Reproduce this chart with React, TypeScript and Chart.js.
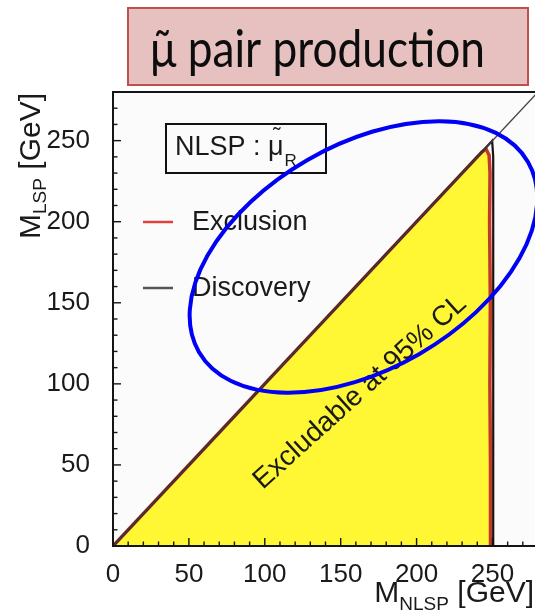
import React, { useEffect, useRef } from 'react';
import { Chart, registerables } from 'chart.js';
Chart.register(...registerables);

// ---- data ----
const xTicks = [0, 50, 100, 150, 200, 250];
const yTicks = [0, 50, 100, 150, 200, 250];
const axisMin = 0;
const axisMax = 280;
const minorStep = 10;
const majorStep = 50;

// Exclusion contour (95% CL) – bounds the yellow excludable region
const exclusionX = [0, 60, 120, 180, 230, 243, 245.8, 247.8, 248.4, 248.1, 248.6, 248.3, 248.7, 248.7];
const exclusionY = [0, 60, 120, 180, 230, 243, 244.8, 241, 230, 200, 150, 100, 50, 0];
// Discovery contour
const discoveryX = [0, 249.8, 250.5, 250.5, 250.5];
const discoveryY = [0, 249.8, 240, 120, 0];
// Kinematic limit M_LSP = M_NLSP
const kinematicX = [0, 280];
const kinematicY = [0, 280];

const legendLabels = ['Exclusion', 'Discovery'];
const titleText = 'μ̃ pair production';
const regionLabel = 'Excludable at 95% CL';
const nlspMain = 'NLSP : μ';
const nlspSub = 'R';
const xTitle = ['M', 'NLSP', ' [GeV]'];
const yTitle = ['M', 'LSP', ' [GeV]'];

const SANS = '"Liberation Sans", Arial, Helvetica, sans-serif';

export default function App() {
  const ref = useRef<HTMLCanvasElement>(null);

  useEffect(() => {
    document.body.style.margin = '0';
    const canvas = ref.current!;
    const pts = (xs: number[], ys: number[]) => xs.map((x, i) => ({ x, y: ys[i] }));

    const drawParts = (ctx: CanvasRenderingContext2D, parts: string[], mainSize: number, subSize: number, subShift: number) => {
      const widths = parts.map((p, i) => {
        ctx.font = `${i === 1 ? subSize : mainSize}px ${SANS}`;
        return ctx.measureText(p).width;
      });
      const total = widths.reduce((a, b) => a + b, 0);
      let cx = -total;
      parts.forEach((p, i) => {
        ctx.font = `${i === 1 ? subSize : mainSize}px ${SANS}`;
        ctx.fillText(p, cx, i === 1 ? subShift : 0);
        cx += widths[i];
      });
      return total;
    };

    const overlay = {
      id: 'overlay',
      beforeDraw(chart: any) {
        const { ctx, chartArea: a } = chart;
        ctx.save();
        ctx.fillStyle = '#ffffff';
        ctx.fillRect(0, 0, chart.width, chart.height);
        ctx.fillStyle = '#FBFBFB';
        ctx.fillRect(a.left, a.top, a.right - a.left, a.bottom - a.top);
        ctx.restore();
      },
      afterDatasetsDraw(chart: any) {
        const { ctx, chartArea: a, scales } = chart;
        const x = scales.x, y = scales.y;
        ctx.save();
        ctx.strokeStyle = '#151515';
        ctx.lineWidth = 1.4;
        for (let v = axisMin; v <= axisMax; v += minorStep) {
          const len = v % majorStep === 0 ? 8 : 4.5;
          const px = x.getPixelForValue(v);
          ctx.beginPath(); ctx.moveTo(px, a.bottom); ctx.lineTo(px, a.bottom - len); ctx.stroke();
          const py = y.getPixelForValue(v);
          ctx.beginPath(); ctx.moveTo(a.left, py); ctx.lineTo(a.left + len, py); ctx.stroke();
        }
        ctx.lineWidth = 2;
        ctx.strokeRect(a.left, a.top, a.right - a.left, a.bottom - a.top);
        ctx.restore();
      },
      afterDraw(chart: any) {
        const { ctx, scales } = chart;
        const x = scales.x, y = scales.y;
        ctx.save();
        ctx.fillStyle = '#1a1a1a';
        ctx.textBaseline = 'alphabetic';

        // axis titles
        ctx.save();
        ctx.translate(534, 602);
        drawParts(ctx, xTitle, 30, 19, 8);
        ctx.restore();
        ctx.save();
        ctx.translate(40, 93);
        ctx.rotate(-Math.PI / 2);
        drawParts(ctx, yTitle, 30, 19, 6);
        ctx.restore();

        // NLSP box
        ctx.strokeStyle = '#111';
        ctx.lineWidth = 2;
        ctx.strokeRect(166, 124, 160, 49);
        ctx.font = `27px ${SANS}`;
        ctx.textAlign = 'left';
        ctx.fillText(nlspMain, 175, 155);
        const w = ctx.measureText(nlspMain).width;
        const wMu = ctx.measureText('μ').width;
        // tilde over the mu
        ctx.textAlign = 'center';
        ctx.font = `22px ${SANS}`;
        ctx.fillText('˜', 175 + w - wMu / 2 + 1, 143);
        ctx.textAlign = 'left';
        ctx.font = `17px ${SANS}`;
        ctx.fillText(nlspSub, 175 + w + 1, 166);

        // legend
        const legendColors = ['#E0403A', '#555555'];
        const legendY = [222, 288];
        legendLabels.forEach((lab, i) => {
          ctx.strokeStyle = legendColors[i];
          ctx.lineWidth = 2.5;
          ctx.beginPath(); ctx.moveTo(143, legendY[i]); ctx.lineTo(173, legendY[i]); ctx.stroke();
          ctx.font = `27px ${SANS}`;
          ctx.textBaseline = 'middle';
          ctx.fillStyle = '#1a1a1a';
          ctx.fillText(lab, 192, legendY[i] + 1);
        });

        // region label
        ctx.save();
        ctx.translate(360, 392);
        ctx.rotate(-42 * Math.PI / 180);
        ctx.textAlign = 'center';
        ctx.textBaseline = 'middle';
        ctx.font = `28px ${SANS}`;
        ctx.fillText(regionLabel, 0, 0);
        ctx.restore();

        // hand-drawn blue ellipse annotation
        const ecx = x.getPixelForValue(165);
        const ecy = y.getPixelForValue(178.3);
        ctx.strokeStyle = '#0000F5';
        ctx.lineWidth = 4;
        ctx.beginPath();
        ctx.ellipse(ecx, ecy, 190, 112, -30 * Math.PI / 180, 0, Math.PI * 2);
        ctx.stroke();

        // title box
        ctx.fillStyle = '#E6C1C0';
        ctx.fillRect(128, 8, 400, 77);
        ctx.strokeStyle = '#C0504D';
        ctx.lineWidth = 2;
        ctx.strokeRect(128, 8, 400, 77);
        ctx.fillStyle = '#0d0d0d';
        ctx.textAlign = 'left';
        ctx.textBaseline = 'alphabetic';
        ctx.font = '52px Lato, "Open Sans", sans-serif';
        const tw = ctx.measureText(titleText).width;
        ctx.save();
        ctx.translate(150, 67);
        ctx.scale(335 / tw, 1);
        ctx.fillText(titleText, 0, 0);
        ctx.restore();

        ctx.restore();
      },
    };

    const tickFont = { family: SANS, size: 26 };
    const chart = new Chart(canvas, {
      type: 'scatter',
      data: {
        datasets: [
          {
            label: 'Kinematic limit',
            data: pts(kinematicX, kinematicY),
            showLine: true,
            borderColor: '#444444',
            borderWidth: 1.3,
            pointRadius: 0,
            fill: false,
            order: 1,
          },
          {
            label: legendLabels[1],
            data: pts(discoveryX, discoveryY),
            showLine: true,
            borderColor: '#1c1010',
            borderWidth: 2.2,
            pointRadius: 0,
            fill: false,
            order: 2,
          },
          {
            label: legendLabels[0],
            data: pts(exclusionX, exclusionY),
            showLine: true,
            borderColor: '#C0392B',
            borderWidth: 3.5,
            backgroundColor: '#FFF733',
            fill: 'origin',
            pointRadius: 0,
            order: 3,
          },
        ],
      },
      options: {
        responsive: false,
        animation: false,
        devicePixelRatio: 1,
        layout: { padding: { top: 92, right: 2, left: 0, bottom: 0 } },
        plugins: { legend: { display: false }, tooltip: { enabled: false } },
        scales: {
          x: {
            type: 'linear',
            min: axisMin,
            max: axisMax,
            afterFit: (s: any) => { s.height = 66; },
            afterBuildTicks: (s: any) => { s.ticks = xTicks.map((v) => ({ value: v })); },
            grid: { display: false },
            border: { display: false },
            ticks: { font: tickFont, color: '#1a1a1a', padding: 5, maxRotation: 0, autoSkip: false },
          },
          y: {
            type: 'linear',
            min: axisMin,
            max: axisMax,
            afterFit: (s: any) => { s.width = 113; },
            afterBuildTicks: (s: any) => { s.ticks = yTicks.map((v) => ({ value: v })); },
            grid: { display: false },
            border: { display: false },
            ticks: { font: tickFont, color: '#1a1a1a', padding: 15, autoSkip: false },
          },
        },
      },
      plugins: [overlay],
    } as any);
    return () => chart.destroy();
  }, []);

  return (
    <div style={{ position: 'absolute', left: 0, top: 0, width: 535, height: 612, overflow: 'hidden', background: '#fff' }}>
      <canvas ref={ref} width={540} height={612} style={{ display: 'block', width: 540, height: 612 }} />
    </div>
  );
}
